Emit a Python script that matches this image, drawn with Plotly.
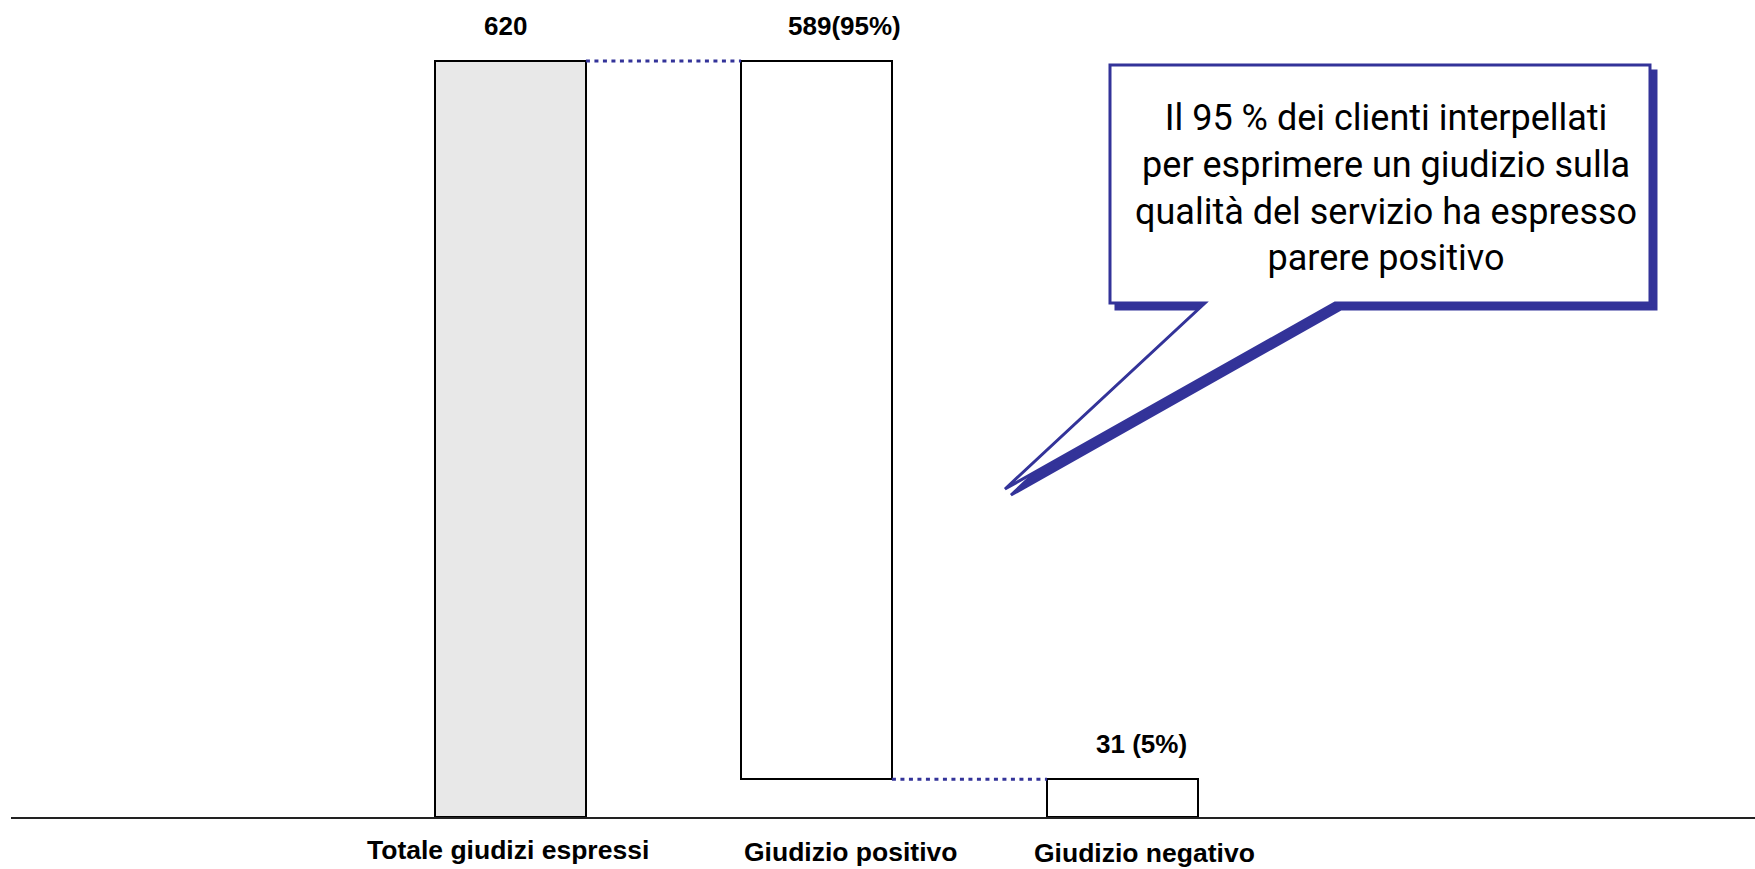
import plotly.graph_objects as go

# ---- data ----
categories = ["Totale giudizi espressi", "Giudizio positivo", "Giudizio negativo"]
values = [620, 589, 31]
bases = [0, 31, 0]
value_labels = ["620", "589(95%)", "31 (5%)"]
bar_fills = ["#e8e8e8", "#ffffff", "#ffffff"]
callout_lines = [
    "Il 95 % dei clienti interpellati",
    "per esprimere un giudizio sulla",
    "qualità del servizio ha espresso",
    "parere positivo",
]

# ---- layout geometry (pixels) ----
FIG_W, FIG_H = 1755, 869
M_L, M_T, M_B, M_R = 11, 0, 52, 0
PW = FIG_W - M_L - M_R
PH = FIG_H - M_T - M_B

def px(x):
    return (x - M_L) / PW

def py(y):
    return (M_T + PH - y) / PH

xs = list(range(len(categories)))
bar_w = 0.493
blue = "#333399"

fig = go.Figure()
fig.add_trace(go.Bar(
    x=xs, y=values, base=bases, width=bar_w,
    marker=dict(color=bar_fills, line=dict(color="#000000", width=2)),
    hoverinfo="skip", showlegend=False,
))

# connectors (waterfall dotted lines)
tops = [b + v for b, v in zip(bases, values)]
shapes = []
shapes.append(dict(type="line", xref="x", yref="y",
                   x0=xs[0] + bar_w / 2, x1=xs[1] - bar_w / 2,
                   y0=tops[0], y1=tops[0],
                   line=dict(color=blue, width=3, dash="4px,4.5px")))
shapes.append(dict(type="line", xref="x", yref="y",
                   x0=xs[1] + bar_w / 2, x1=xs[2] - bar_w / 2,
                   y0=bases[1], y1=bases[1],
                   line=dict(color=blue, width=3, dash="4px,4.5px")))

# callout with shadow
callout_pts = [(1110, 65), (1650, 65), (1650, 303), (1335, 303),
               (1005, 489), (1205, 303), (1110, 303)]

def path_from(pts, dx=0, dy=0):
    s = ""
    for i, (x, y) in enumerate(pts):
        s += ("M " if i == 0 else " L ") + f"{px(x + dx):.5f},{py(y + dy):.5f}"
    return s + " Z"

shapes.append(dict(type="path", xref="paper", yref="paper",
                   path=path_from(callout_pts, 6, 6),
                   fillcolor=blue, line=dict(color=blue, width=3)))
shapes.append(dict(type="path", xref="paper", yref="paper",
                   path=path_from(callout_pts),
                   fillcolor="#ffffff", line=dict(color=blue, width=3)))

annotations = []
label_font = dict(family="Liberation Sans, Arial, sans-serif", size=26, color="#000000")
val_xshift = [-5, 28, 19]
for i, (x, t, lab) in enumerate(zip(xs, tops, value_labels)):
    annotations.append(dict(x=x, y=t, xref="x", yref="y", text=f"<b>{lab}</b>",
                            showarrow=False, yanchor="middle", xanchor="center",
                            yshift=35, xshift=val_xshift[i], font=label_font))

cat_xshift = [-3, 34, 22]
cat_yshift = [-33, -35, -36]
cat_font = dict(family="Liberation Sans, Arial, sans-serif", size=26.5, color="#000000")
for i, (x, c) in enumerate(zip(xs, categories)):
    annotations.append(dict(x=x, y=0, xref="x", yref="y", text=f"<b>{c}</b>",
                            showarrow=False, yanchor="middle", xanchor="center",
                            yshift=cat_yshift[i], xshift=cat_xshift[i], font=cat_font))

annotations.append(dict(x=px(1386), y=py(188), xref="paper", yref="paper",
                        text="<br>".join(callout_lines), showarrow=False,
                        xanchor="center", yanchor="middle", align="center",
                        font=dict(family="Roboto, sans-serif", size=36,
                                  color="#000000")))

x_px_per_unit = 306.0
x0 = (M_L - 510.5) / x_px_per_unit
x1 = x0 + PW / x_px_per_unit
y_px_per_unit = (817 - 61) / 620.0
y1 = PH / y_px_per_unit

fig.update_layout(
    width=FIG_W, height=FIG_H,
    margin=dict(l=M_L, r=M_R, t=M_T, b=M_B),
    paper_bgcolor="#ffffff", plot_bgcolor="#ffffff",
    xaxis=dict(range=[x0, x1], showgrid=False, zeroline=False, showticklabels=False,
               ticks="", showline=True, linecolor="#222222", linewidth=2, fixedrange=True),
    yaxis=dict(range=[0, y1], showgrid=False, zeroline=False, showticklabels=False,
               ticks="", showline=False, fixedrange=True),
    shapes=shapes, annotations=annotations, bargap=0,
)

fig.write_html("out.html")
